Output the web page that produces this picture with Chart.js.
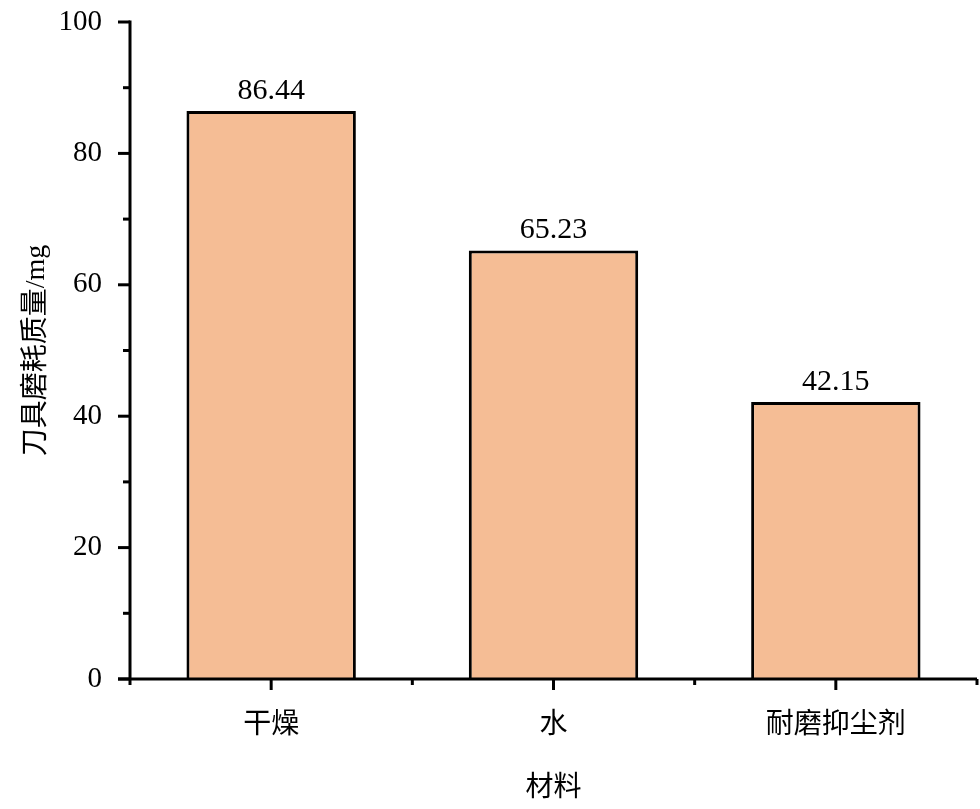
<!DOCTYPE html>
<html>
<head>
<meta charset="utf-8">
<script src="https://cdn.jsdelivr.net/npm/chart.js@4/dist/chart.umd.min.js"></script>
<style>
  html, body { margin: 0; padding: 0; background: #fff; }
  #wrap { width: 980px; height: 809px; }
</style>
</head>
<body>
<div id="wrap"><canvas id="wear-chart"></canvas></div>
<script>
// chart values
const categories = ['干燥', '水', '耐磨抑尘剂'];
const wearMass = [86.44, 65.23, 42.15];
const yTicks = [0, 20, 40, 60, 80, 100];

const FONT = '"Liberation Serif", "Noto Sans CJK SC", serif';

// axis lines + major/minor ticks drawn from the scales
const axisPlugin = {
	id: 'axisLines',
	afterDraw(chart) {
		const { ctx, chartArea, scales } = chart;
		const x = scales.x, y = scales.y;
		ctx.save();
		ctx.strokeStyle = '#000';
		ctx.lineWidth = 3;
		ctx.lineCap = 'butt';
		// y axis
		ctx.beginPath();
		ctx.moveTo(chartArea.left, y.getPixelForValue(100) - 1.5);
		ctx.lineTo(chartArea.left, chartArea.bottom);
		ctx.stroke();
		// x axis
		ctx.beginPath();
		ctx.moveTo(chartArea.left - 12, chartArea.bottom);
		ctx.lineTo(chartArea.right, chartArea.bottom);
		ctx.stroke();
		// y ticks
		for (let v = 0; v <= 100; v += 10) {
			const py = y.getPixelForValue(v);
			const len = v % 20 === 0 ? 12 : 7;
			ctx.beginPath();
			ctx.moveTo(chartArea.left - len, py);
			ctx.lineTo(chartArea.left, py);
			ctx.stroke();
		}
		// x ticks: centres long, boundaries short
		for (let i = 0; i < categories.length; i++) {
			const px = x.getPixelForValue(i);
			ctx.beginPath();
			ctx.moveTo(px, chartArea.bottom);
			ctx.lineTo(px, chartArea.bottom + 11);
			ctx.stroke();
		}
		for (let i = 0; i <= categories.length; i++) {
			const px = x.getPixelForValue(i - 0.5);
			ctx.beginPath();
			ctx.moveTo(px, chartArea.bottom);
			ctx.lineTo(px, chartArea.bottom + 6);
			ctx.stroke();
		}
		ctx.restore();
	}
};

// values above bars
const valueLabels = {
	id: 'valueLabels',
	afterDatasetsDraw(chart) {
		const { ctx } = chart;
		const meta = chart.getDatasetMeta(0);
		ctx.save();
		ctx.fillStyle = '#000';
		ctx.font = '30px ' + FONT;
		ctx.textAlign = 'center';
		ctx.textBaseline = 'alphabetic';
		meta.data.forEach(function (bar, i) {
			ctx.fillText(wearMass[i].toFixed(2), bar.x, bar.y - 12);
		});
		ctx.restore();
	}
};

document.addEventListener('DOMContentLoaded', function () {
	const canvas = document.getElementById('wear-chart');
	new Chart(canvas, {
		type: 'bar',
		data: {
			labels: categories,
			datasets: [{
				data: wearMass,
				backgroundColor: '#F5BD95',
				borderColor: '#000',
				borderWidth: 3,
				borderSkipped: 'bottom',
				barPercentage: 0.6,
				categoryPercentage: 1.0
			}]
		},
		options: {
			responsive: true,
			maintainAspectRatio: false,
			animation: false,
			layout: { padding: { top: 22, right: 3, left: 0, bottom: 0 } },
			plugins: {
				legend: { display: false },
				tooltip: { enabled: false }
			},
			scales: {
				x: {
					offset: true,
					grid: { display: false },
					border: { display: false },
					ticks: {
						color: '#000',
						font: { family: FONT, size: 28 },
						padding: 22
					},
					title: {
						display: true,
						text: '材料',
						color: '#000',
						font: { family: FONT, size: 28 },
						padding: { top: 38 }
					},
					afterFit(scale) {
						scale.height = 130;
						scale.paddingLeft = 0;
						scale.paddingRight = 0;
					}
				},
				y: {
					min: 0,
					max: 100,
					grid: { display: false },
					border: { display: false },
					afterBuildTicks(scale) {
						scale.ticks = yTicks.map(function (v) { return { value: v }; });
					},
					ticks: {
						color: '#000',
						font: { family: FONT, size: 29 },
						padding: 20
					},
					title: {
						display: true,
						text: '刀具磨耗质量/mg',
						color: '#000',
						font: { family: FONT, size: 28 },
						padding: { top: 20, bottom: 20 }
					},
					afterFit(scale) {
						scale.width = 130;
						scale.paddingTop = 0;
						scale.paddingBottom = 0;
					}
				}
			}
		},
		plugins: [axisPlugin, valueLabels]
	});
});
</script>
</body>
</html>
